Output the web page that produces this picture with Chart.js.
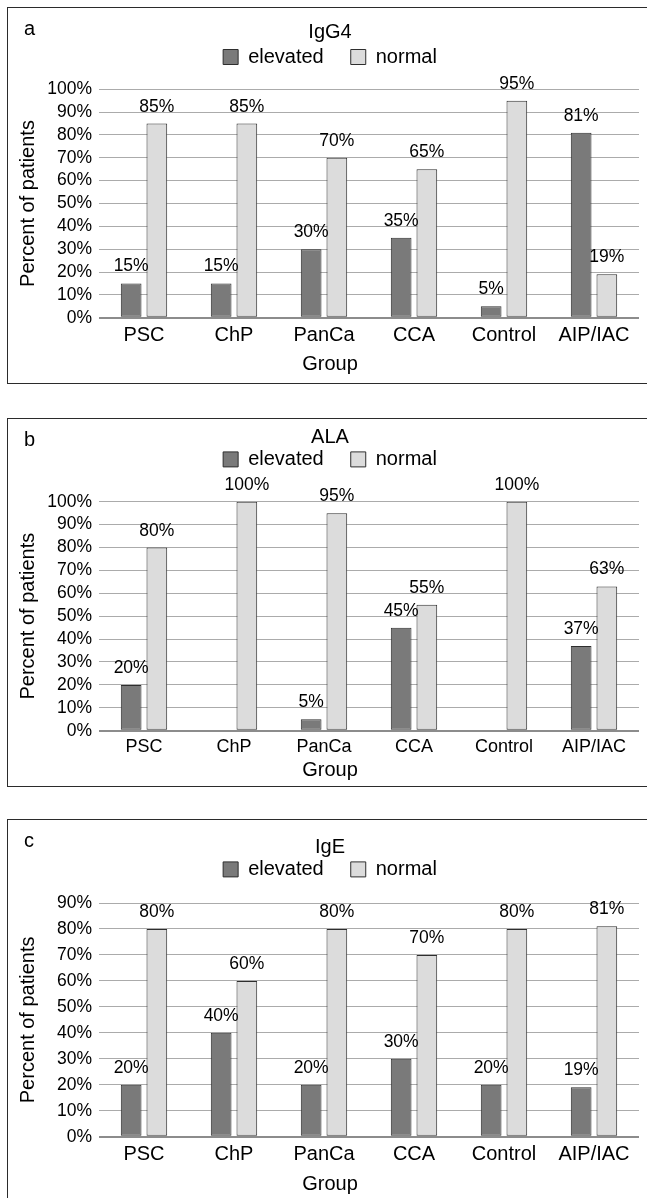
<!DOCTYPE html>
<html><head><meta charset="utf-8">
<script src="https://cdn.jsdelivr.net/npm/chart.js@4.4.0/dist/chart.umd.min.js"></script>
<style>
html,body{margin:0;padding:0;background:#fff;width:647px;height:1198px;overflow:hidden;position:relative;}
.panel{position:absolute;left:7px;width:644px;border:1px solid #2b2b2b;}
.panel canvas{position:absolute;left:0;top:0;}
.tag{position:absolute;left:16px;top:10px;font:20px "Liberation Sans",Arial,sans-serif;line-height:20px;color:#000;}
</style></head><body>
<div class="panel" style="top:7px;height:375px"><canvas id="ca" width="644" height="375"></canvas><div class="tag">a</div></div>
<div class="panel" style="top:418px;height:367px"><canvas id="cb" width="644" height="367"></canvas><div class="tag">b</div></div>
<div class="panel" style="top:819px;height:400px"><canvas id="cc" width="644" height="400"></canvas><div class="tag">c</div></div>
<script>
const groups = ['PSC', 'ChP', 'PanCa', 'CCA', 'Control', 'AIP/IAC'];
const seriesNames = ['elevated', 'normal'];
const igg4Elevated = [15, 15, 30, 35, 5, 81];
const igg4Normal = [85, 85, 70, 65, 95, 19];
const alaElevated = [20, 0, 5, 45, 0, 37];
const alaNormal = [80, 100, 95, 55, 100, 63];
const igeElevated = [20, 40, 20, 30, 20, 19];
const igeNormal = [80, 60, 80, 70, 80, 81];
const panelTitles = ['IgG4', 'ALA', 'IgE'];
const yMaxes = [100, 100, 90];
const tickStep = 10;
const xAxisTitle = 'Group';
const yAxisTitle = 'Percent of patients';

const FONT = '"Liberation Sans", Arial, Helvetica, sans-serif';
Chart.defaults.font.family = FONT;
Chart.defaults.color = '#000';

const legendGap = {
  id: 'legendGap',
  afterInit(chart, args, opts) {
    const lg = chart.legend;
    if (!lg) return;
    const orig = lg.fit.bind(lg);
    lg.fit = function () { orig(); this.height += (opts.extra || 0); };
  }
};

const valueLabels = {
  id: 'valueLabels',
  afterDatasetsDraw(chart, args, opts) {
    const ctx = chart.ctx;
    ctx.save();
    ctx.font = opts.size + 'px ' + FONT;
    ctx.fillStyle = '#000';
    ctx.textAlign = 'center';
    ctx.textBaseline = 'alphabetic';
    chart.data.datasets.forEach((ds, di) => {
      const meta = chart.getDatasetMeta(di);
      meta.data.forEach((bar, i) => {
        const v = ds.data[i];
        if (!v) return;
        ctx.fillText(v + '%', bar.x, bar.y - opts.gap);
      });
    });
    ctx.restore();
  }
};

function makeChart(id, title, elev, norm, ymax, L) {
  return new Chart(document.getElementById(id), {
    type: 'bar',
    data: {
      labels: groups,
      datasets: [
        { label: seriesNames[0], data: elev, backgroundColor: '#7a7a7a', borderColor: '#2e2e2e', borderWidth: 1, borderSkipped: false, categoryPercentage: 0.571, barPercentage: 0.805 },
        { label: seriesNames[1], data: norm, backgroundColor: '#dcdcdc', borderColor: '#2e2e2e', borderWidth: 1, borderSkipped: false, categoryPercentage: 0.571, barPercentage: 0.805 }
      ]
    },
    options: {
      responsive: false,
      animation: false,
      events: [],
      layout: { padding: { left: 13, right: 13, top: 0, bottom: L.pb } },
      plugins: {
        title: { display: true, text: title, color: '#000', font: { size: 20, weight: 'normal' }, padding: { top: L.tt, bottom: L.tb } },
        legend: { display: true, position: 'top', labels: { boxWidth: 15, boxHeight: 15, padding: 27, color: '#000', font: { size: 20 } } },
        subtitle: { display: true, position: 'bottom', text: xAxisTitle, color: '#000', font: { size: 20, weight: 'normal' }, padding: { top: L.st, bottom: L.sb } },
        tooltip: { enabled: false },
        legendGap: { extra: L.extra },
        valueLabels: { size: 17.5, gap: 12 }
      },
      scales: {
        x: {
          grid: { display: false, drawTicks: false },
          border: { display: false },
          ticks: { color: '#000', font: { size: L.xf }, padding: L.xp, maxRotation: 0, autoSkip: false }
        },
        y: {
          min: 0, max: ymax,
          grid: {
            drawTicks: false,
            color: c => (c.tick && c.tick.value === 0) ? '#8c8c8c' : '#ababab',
            lineWidth: c => (c.tick && c.tick.value === 0) ? 2 : 1
          },
          border: { display: false },
          ticks: { stepSize: tickStep, autoSkip: false, color: '#000', font: { size: 17.5 }, padding: 7, callback: v => v + '%' },
          title: { display: true, text: yAxisTitle, color: '#000', font: { size: 20 }, padding: { top: -5, bottom: 0 } },
          afterFit: s => { s.width = 78; }
        }
      }
    },
    plugins: [legendGap, valueLabels]
  });
}

makeChart('ca', panelTitles[0], igg4Elevated, igg4Normal, yMaxes[0],
  { tt: 12.4, tb: -24.4, extra: 12.3, xf: 20, xp: 6, st: -1.7, sb: 7, pb: 0 });
makeChart('cb', panelTitles[1], alaElevated, alaNormal, yMaxes[1],
  { tt: 6.4, tb: -27, extra: 22.3, xf: 18, xp: 5.2, st: -4.3, sb: 3.6, pb: 0 });
makeChart('cc', panelTitles[2], igeElevated, igeNormal, yMaxes[2],
  { tt: 15.4, tb: -27, extra: 13.6, xf: 20, xp: 5.4, st: 0.6, sb: 23.9, pb: 0 });
</script>
</body></html>
